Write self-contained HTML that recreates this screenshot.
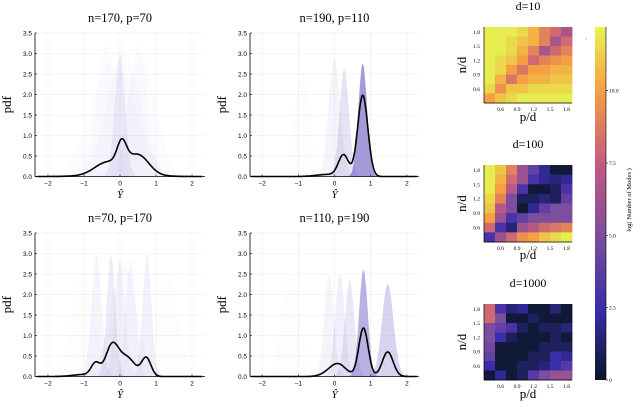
<!DOCTYPE html>
<html><head><meta charset="utf-8"><style>
body{margin:0;background:#fff}
svg{display:block;font-family:"Liberation Sans",sans-serif}
.ser{font-family:"Liberation Serif",serif}
</style></head><body>
<svg id="s" width="640" height="407" viewBox="0 0 640 407"></svg>
<script>
// ---- density panels data ----
const panelTitles = ["n=170, p=70","n=190, p=110","n=70, p=170","n=110, p=190"];
// shaded components: [mean, peak height, sigma, opacity]
const shaded0 = [[0,3.0,0.14,0.09],[-0.4,3.2,0.25,0.025],[0.5,3.2,0.25,0.025],[0.1,3.0,0.45,0.03],[-0.2,2.8,0.6,0.02],[0.6,2.9,0.4,0.02]];
const shaded1 = [[-0.9,2.6,0.2,0.015],[0.0,2.9,0.16,0.07],[0.27,2.62,0.13,0.18],[0.78,2.75,0.12,0.65]];
const shaded2 = [[-0.65,2.95,0.14,0.07],[-0.25,2.95,0.12,0.12],[0.0,2.85,0.14,0.06],[0.3,2.85,0.14,0.06],[0.75,3.0,0.12,0.09],[-1.0,2.6,0.3,0.015],[1.3,2.5,0.3,0.015],[0.1,2.8,0.35,0.04]];
const shaded3 = [[-1.2,2.5,0.25,0.015],[-0.15,2.5,0.13,0.07],[0.15,2.5,0.13,0.1],[0.42,2.35,0.13,0.15],[0.8,2.6,0.12,0.5],[1.47,2.25,0.16,0.28]];
// black mixture curve components: [mean, amplitude, sigma]
const black0 = [[0.05,0.55,0.13],[-0.35,0.3,0.35],[0.5,0.48,0.3],[0,0.06,0.7]];
const black1 = [[0.25,0.52,0.14],[0.78,1.98,0.14],[-0.2,0.05,0.3]];
const black2 = [[-0.68,0.3,0.12],[-0.22,0.75,0.18],[0.2,0.45,0.22],[0.73,0.45,0.13],[-1.0,0.05,0.3]];
const black3 = [[0.1,0.3,0.22],[0.8,1.18,0.13],[1.47,0.6,0.15],[-0.2,0.05,0.2]];
const shadedSets=[shaded0,shaded1,shaded2,shaded3], blackSets=[black0,black1,black2,black3];
const xTicks=[-2,-1,0,1,2], yTicks=[0,0.5,1,1.5,2,2.5,3,3.5];
const yTickLabels=["0.0","0.5","1.0","1.5","2.0","2.5","3.0","3.5"];

// ---- heatmaps data (rows top→bottom, cols left→right, values on colorbar scale) ----
const heatTitles=["d=10","d=100","d=1000"];
const heat0=[[12,12,12,11.5,10.5,9,8,6.5],[12,12,11.5,11,10.5,9,6.5,8],[12,12,11.5,10.5,9,6.5,8,9],[12,11.5,11,10,8,9,9.5,10],[12,11.5,10,8.5,10,10,10.5,10.5],[12,10.5,8.5,10,10.5,10.5,11,11],[11.5,9.5,11,11,11.5,11.5,11.5,11.5],[10,11,11.5,12,12,12,12,12]];
const heat1=[[12,11,9,6,4,2,0.3,0.3],[12,10.5,8,6,3,2,1.5,2],[12,10,7,3,0.3,0.3,1,3],[11.5,9,5,1,1,1.5,1,4],[11,7,5,0.3,2,4,5,5],[10,6,3,4,5,5,5,5],[8,3,1.5,6,7,8,8.5,9],[3,6,8,9.5,10,11,11.5,12]];
const heat2=[[8,3,1.5,2,0.3,0.3,1.5,0.3],[8,5,0.3,0.3,1,0.3,0.3,0.3],[5,4,3,1,0.3,1,1,1.5],[5,2.5,1,0.3,0.3,0.3,1,0.3],[4.5,0.3,0.3,0.3,0.3,1,1,1],[4,0.3,0.3,0.3,1,1,2.5,2],[2.5,0.3,0.3,1,1,1.5,2.5,3.5],[0.3,2,0.3,1,3.5,5,6,6]];
const heatSets=[heat0,heat1,heat2];
const heatTickLabels=["0.6","0.9","1.2","1.5","1.8"];
const cbTicks=[0,2.5,5,7.5,10];
const cbTickLabels=["0","2.5","5.0","7.5","10.0"];
const cbMax=12.2;

const NS="http://www.w3.org/2000/svg", S=document.getElementById('s');
function el(t,a,p){const e=document.createElementNS(NS,t);for(const k in a)e.setAttribute(k,a[k]);(p||S).appendChild(e);return e;}
function txt(x,y,s,a,p){const e=el('text',Object.assign({x:x,y:y},a),p);e.textContent=s;return e;}

const panels=[{L:35,R:205,T:33,B:176.5,x0:120,ux:36,ty:22,ly:198},
              {L:250,R:419,T:33,B:176.5,x0:334.5,ux:36.2,ty:22,ly:198},
              {L:35,R:205,T:233,B:376.5,x0:120,ux:36,ty:222,ly:398},
              {L:250,R:419,T:233,B:376.5,x0:334.5,ux:36.2,ty:222,ly:398}];
const gauss=(x,m,s)=>Math.exp(-0.5*((x-m)/s)**2);
panels.forEach((P,i)=>{
  const g=el('g',{});
  
  
  const X=v=>P.x0+v*P.ux, Y=v=>P.B-v*(P.B-P.T)/3.5;
  xTicks.forEach(t=>{el('line',{x1:X(t),x2:X(t),y1:P.T,y2:P.B,stroke:'#000','stroke-opacity':0.07,'stroke-width':0.6},g);});
  yTicks.forEach(t=>{el('line',{x1:P.L,x2:P.R,y1:Y(t),y2:Y(t),stroke:'#000','stroke-opacity':0.07,'stroke-width':0.6},g);});
  shadedSets[i].forEach((c,j)=>{
    let d='M'+X(-2.3)+','+Y(0);
    for(let v=-2.3;v<=2.3;v+=0.02)d+='L'+X(v).toFixed(1)+','+Y(c[1]*gauss(v,c[0],c[2])).toFixed(1);
    d+='L'+X(2.3)+','+Y(0)+'Z';
    const p=el('path',{d:d,fill:'#7464c4','fill-opacity':c[3]},g);
    
    
  });
  let d='';
  for(let v=-2.3;v<=2.3;v+=0.02){let s=0;blackSets[i].forEach(c=>s+=c[1]*gauss(v,c[0],c[2]));d+=(d?'L':'M')+X(v).toFixed(1)+','+Y(s).toFixed(1);}
  const bl=el('path',{d:d,fill:'none',stroke:'#000','stroke-width':1.6},g);
  
  
  el('line',{x1:P.L,x2:P.L,y1:P.T,y2:P.B,stroke:'#000','stroke-width':0.8},g);
  el('line',{x1:P.L,x2:P.R,y1:P.B,y2:P.B,stroke:'#000','stroke-width':0.8},g);
  xTicks.forEach(t=>{el('line',{x1:X(t),x2:X(t),y1:P.B,y2:P.B-2,stroke:'#000','stroke-width':0.6},g);
    txt(X(t),P.B+9,t<0?'\u2212'+(-t):String(t),{'font-size':6.5,'text-anchor':'middle'},g);});
  yTicks.forEach((t,k)=>{el('line',{x1:P.L,x2:P.L+2,y1:Y(t),y2:Y(t),stroke:'#000','stroke-width':0.6},g);
    txt(P.L-3,Y(t)+2.3,yTickLabels[k],{'font-size':6.5,'text-anchor':'end'},g);});
  const t=txt((P.L+P.R)/2,P.ty,panelTitles[i],{'font-size':12.5,'text-anchor':'middle',class:'ser'},g);
  
  const xl=txt(X(0),P.ly,'\u0176',{'font-size':11,'text-anchor':'middle',class:'ser','font-style':'italic'},g);
  
  const yx=P.L-24, yy=(P.T+P.B)/2;
  const yl=txt(yx,yy,'pdf',{'font-size':13,'text-anchor':'middle',class:'ser',transform:`rotate(-90 ${yx} ${yy})`},g);
  
});

// colormap
const stops=[[0,[10,22,40]],[0.2,[58,44,170]],[0.41,[125,77,158]],[0.61,[196,90,128]],[0.82,[246,158,66]],[1,[230,245,80]]];
function cmap(v){let f=Math.max(0,Math.min(1,v/cbMax));for(let k=1;k<stops.length;k++){if(f<=stops[k][0]){const a=stops[k-1],b=stops[k],t=(f-a[0])/(b[0]-a[0]);return 'rgb('+a[1].map((c,m)=>Math.round(c+(b[1][m]-c)*t)).join(',')+')';}}return 'rgb(230,245,80)';}

const hm=[{T:27,B:103,ty:10,ly:121},{T:165,B:242,ty:148,ly:259},{T:304,B:380,ty:287,ly:398}];
const HL=484,HR=572;
hm.forEach((H,i)=>{
  const g=el('g',{});
  
  
  const data=heatSets[i],n=data.length,cw=(HR-HL)/8,ch=(H.B-H.T)/n;
  data.forEach((row,r)=>row.forEach((v,c)=>{
    const rc=el('rect',{x:HL+c*cw,y:H.T+r*ch,width:cw+0.4,height:ch+0.4,fill:cmap(v)},g);
    
    
  }));
  el('line',{x1:HL,x2:HL,y1:H.T,y2:H.B,stroke:'#000','stroke-width':0.7},g);
  el('line',{x1:HL,x2:HR,y1:H.B,y2:H.B,stroke:'#000','stroke-width':0.7},g);
  heatTickLabels.forEach((l,k)=>{
    const x=HL+cw*(1.5+k*1.5), y=H.B-ch*(1.5+k*1.5);
    txt(x,H.B+8,l,{'font-size':5.5,'text-anchor':'middle',class:'ser'},g);
    txt(HL-4,y+2,l,{'font-size':5.5,'text-anchor':'end',class:'ser'},g);
  });
  const t=txt((HL+HR)/2,H.ty,heatTitles[i],{'font-size':12,'text-anchor':'middle',class:'ser'},g);
  
  txt((HL+HR)/2,H.ly,'p/d',{'font-size':13,'text-anchor':'middle',class:'ser'},g);
  const yy=(H.T+H.B)/2;
  txt(466,yy,'n/d',{'font-size':13,'text-anchor':'middle',class:'ser',transform:`rotate(-90 466 ${yy})`},g);
});
el('circle',{cx:586,cy:39,r:0.5,fill:'#555'});

// colorbar
const cb=el('g',{});


const CT=27,CB=380,CX=595,CW=11;
const defs=el('defs',{},cb),lg=el('linearGradient',{id:'cg',x1:0,y1:1,x2:0,y2:0},defs);
for(let k=0;k<=20;k++)el('stop',{offset:k/20,'stop-color':cmap(k/20*cbMax)},lg);
el('rect',{x:CX,y:CT,width:CW,height:CB-CT,fill:'url(#cg)'},cb);
el('line',{x1:CX+CW,x2:CX+CW,y1:CT,y2:CB,stroke:'#000','stroke-width':0.6},cb);
cbTicks.forEach((t,k)=>{const y=CB-t/cbMax*(CB-CT);
  el('line',{x1:CX+CW,x2:CX+CW+2,y1:y,y2:y,stroke:'#000','stroke-width':0.6},cb);
  txt(CX+CW+3,y+2,cbTickLabels[k],{'font-size':5.5,class:'ser'},cb);});
const cl=txt(631,200,'log( Number of Modes )',{'font-size':6.5,'text-anchor':'middle',class:'ser',transform:'rotate(-90 631 200)'},cb);

</script>
</body></html>
